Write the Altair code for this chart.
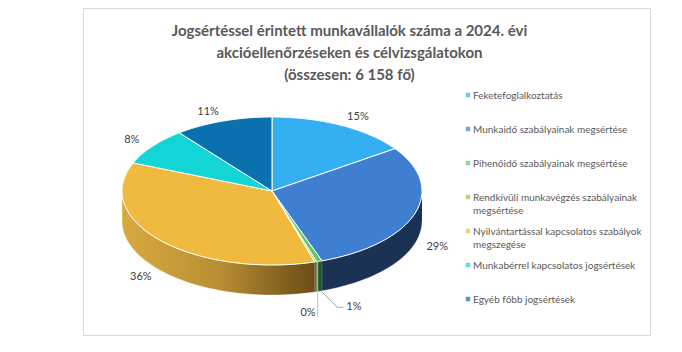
import altair as alt
import pandas as pd

# ---- data ----
categories = [
    "Feketefoglalkoztatás",
    "Munkaidő szabályainak megsértése",
    "Pihenőidő szabályainak megsértése",
    "Rendkívüli munkavégzés szabályainak megsértése",
    "Nyilvántartással kapcsolatos szabályok megszegése",
    "Munkabérrel kapcsolatos jogsértések",
    "Egyéb főbb jogsértések",
]
legend_labels = [
    "Feketefoglalkoztatás",
    "Munkaidő szabályainak megsértése",
    "Pihenőidő szabályainak megsértése",
    "Rendkívüli munkavégzés szabályainak|megsértése",
    "Nyilvántartással kapcsolatos szabályok|megszegése",
    "Munkabérrel kapcsolatos jogsértések",
    "Egyéb főbb jogsértések",
]
shares = [15.3, 29.3, 0.6, 0.2, 35.8, 8.2, 10.6]  # percent
title_lines = [
    "Jogsértéssel érintett munkavállalók száma a 2024. évi",
    "akcióellenőrzéseken és célvizsgálatokon",
    "(összesen: 6 158 fő)",
]

# ---- styles ----
top_colors = ["#33AFF2", "#3F7FD2", "#5DC96B", "#93C83E", "#F0BA3F", "#13D5D5", "#0A70AE"]
side_colors = ["#1D6E9C", "#1B3254", "#1F5A2C", "#4F6B1F", "#B08A2E", "#0B8A8A", "#06466C"]
FONT = "Lato"
D = 30 / 74  # depth of the 3D pie in y units

df = pd.DataFrame({
    "cat": categories,
    "legend": legend_labels,
    "share": shares,
    "idx": list(range(len(categories))),
})

xs = alt.Scale(domain=[-1.26, 2.52], nice=False, zero=False)
ys = alt.Scale(domain=[-1.9459, 2.4730], nice=False, zero=False)
top_fill = alt.Scale(domain=categories, range=top_colors)
side_fill = alt.Scale(domain=categories, range=side_colors)

base = alt.Chart(df).transform_window(
    cum="sum(share)", sort=[alt.SortField("idx")], frame=[None, 0]
).transform_calculate(
    a0="(datum.cum - datum.share) / 100 * 2 * PI",
    a1="datum.cum / 100 * 2 * PI",
)

# ---- side walls (front half only) ----
side_base = base.transform_calculate(
    s0="max(datum.a0, PI / 2)", s1="min(datum.a1, 3 * PI / 2)"
).transform_filter("datum.s1 > datum.s0").transform_calculate(
    k="sequence(0, 122)"
).transform_flatten(["k"]).transform_calculate(
    j="datum.k <= 60 ? datum.k : 121 - datum.k",
).transform_calculate(
    t="datum.s0 + (datum.s1 - datum.s0) * datum.j / 60",
).transform_calculate(
    px="sin(datum.t)",
    py=f"cos(datum.t) - (datum.k <= 60 ? 0 : {D})",
)

sides = side_base.transform_filter("datum.idx != 4").mark_line(
    strokeWidth=0.5, stroke="#ffffff", strokeOpacity=0.6
).encode(
    x=alt.X("px:Q", scale=xs, axis=None),
    y=alt.Y("py:Q", scale=ys, axis=None),
    fill=alt.Fill("cat:N", scale=side_fill, legend=None),
    detail="cat:N",
    order=alt.Order("k:Q"),
)

orange_side = side_base.transform_filter("datum.idx == 4").mark_line(
    strokeWidth=0.5, stroke="#ffffff", strokeOpacity=0.6,
    fill=alt.Gradient(
        gradient="linear",
        stops=[
            alt.GradientStop(color="#D8A93E", offset=0),
            alt.GradientStop(color="#B88F33", offset=0.5),
            alt.GradientStop(color="#6A4C17", offset=1),
        ],
        x1=0, x2=1, y1=0, y2=0,
    ),
).encode(
    x=alt.X("px:Q", scale=xs, axis=None),
    y=alt.Y("py:Q", scale=ys, axis=None),
    detail="cat:N",
    order=alt.Order("k:Q"),
)

# ---- top faces ----
tops = base.transform_calculate(
    k="sequence(-1, 62)"
).transform_flatten(["k"]).transform_calculate(
    t="datum.a0 + (datum.a1 - datum.a0) * clamp(datum.k, 0, 60) / 60",
).transform_calculate(
    px="(datum.k < 0 || datum.k > 60) ? 0 : sin(datum.t)",
    py="(datum.k < 0 || datum.k > 60) ? 0 : cos(datum.t)",
).mark_line(stroke="#ffffff", strokeWidth=1, strokeJoin="round").encode(
    x=alt.X("px:Q", scale=xs, axis=None),
    y=alt.Y("py:Q", scale=ys, axis=None),
    fill=alt.Fill("cat:N", scale=top_fill, legend=None),
    detail="cat:N",
    order=alt.Order("k:Q"),
)

# ---- data labels ----
lab_base = base.transform_calculate(
    mid="(datum.a0 + datum.a1) / 2",
    txt="format(datum.share, '.0f') + '%'",
)
labels = lab_base.transform_filter("datum.share >= 2").transform_calculate(
    lx="1.08 * sin(datum.mid) + 0.0733 * (sin(datum.mid) < 0 ? -1 : 1)",
    ly=f"1.135 * cos(datum.mid) - (cos(datum.mid) < 0 ? {D} : 0)",
).mark_text(font=FONT, fontSize=11, color="#404040").encode(
    x=alt.X("lx:Q", scale=xs, axis=None),
    y=alt.Y("ly:Q", scale=ys, axis=None),
    text="txt:N",
)

# small slice "1%" (Pihenőidő): leader from bottom rim, elbow, then label
small1 = lab_base.transform_filter("datum.idx == 2").transform_calculate(
    ax="sin(datum.mid) + 2 / 150",
    ay=f"cos(datum.mid) - {D}",
).transform_calculate(
    ex="datum.ax + 16 / 150",
    ey="datum.ay - 16 / 74",
).transform_calculate(
    fx="datum.ex + 6 / 150",
)
lead1a = small1.mark_rule(color="#a6a6a6", strokeWidth=1).encode(
    x=alt.X("ax:Q", scale=xs, axis=None), y=alt.Y("ay:Q", scale=ys, axis=None),
    x2="ex:Q", y2="ey:Q",
)
lead1b = small1.mark_rule(color="#a6a6a6", strokeWidth=1).encode(
    x=alt.X("ex:Q", scale=xs, axis=None), y=alt.Y("ey:Q", scale=ys, axis=None),
    x2="fx:Q", y2="ey:Q",
)
text1 = small1.mark_text(font=FONT, fontSize=11, color="#404040", align="left", dx=3).encode(
    x=alt.X("fx:Q", scale=xs, axis=None), y=alt.Y("ey:Q", scale=ys, axis=None), text="txt:N",
)

# small slice "0%" (Rendkívüli): vertical leader from top rim
small0 = lab_base.transform_filter("datum.idx == 3").transform_calculate(
    ax="sin(datum.mid) + 2 / 150",
    ay="cos(datum.mid)",
).transform_calculate(
    ey="datum.ay - 55 / 74",
)
lead0 = small0.mark_rule(color="#bfbfbf", strokeWidth=1).encode(
    x=alt.X("ax:Q", scale=xs, axis=None), y=alt.Y("ay:Q", scale=ys, axis=None),
    x2="ax:Q", y2="ey:Q",
)
text0 = small0.mark_text(font=FONT, fontSize=11, color="#404040", align="right", dx=-2, dy=-4).encode(
    x=alt.X("ax:Q", scale=xs, axis=None), y=alt.Y("ey:Q", scale=ys, axis=None), text="txt:N",
)

# ---- legend (drawn as a layer so that rows keep Excel's even spacing) ----
leg_y = alt.Y("cat:N", scale=alt.Scale(type="point", domain=categories, range=[87, 291], padding=0), axis=None)
leg_sq = alt.Chart(df).mark_square(size=20).encode(
    x=alt.value(385), y=leg_y,
    fill=alt.Fill("cat:N", scale=top_fill, legend=None),
)
leg_tx = alt.Chart(df).mark_text(
    font=FONT, fontSize=10, color="#595959", align="left", baseline="alphabetic",
    lineBreak="|", lineHeight=13, dy=3.5,
).encode(x=alt.value(390), y=leg_y, text="legend:N")

chart = alt.layer(
    sides, orange_side, tops, labels, lead1a, lead1b, text1, lead0, text0, leg_sq, leg_tx
).resolve_scale(
    y="independent", fill="independent"
).properties(
    width=567, height=327,
    autosize="none",
    padding={"left": 83, "top": 8, "right": 32, "bottom": 17},
    background="#ffffff",
    title=alt.TitleParams(
        text=title_lines, font=FONT, fontSize=15, fontWeight="bold", color="#595959",
        anchor="middle", frame="group", offset=-75, dx=-17, lineHeight=22,
    ),
).configure_view(stroke="#d9d9d9", strokeWidth=1)

chart.save("out.html", embed_options={"renderer": "svg", "actions": False})
